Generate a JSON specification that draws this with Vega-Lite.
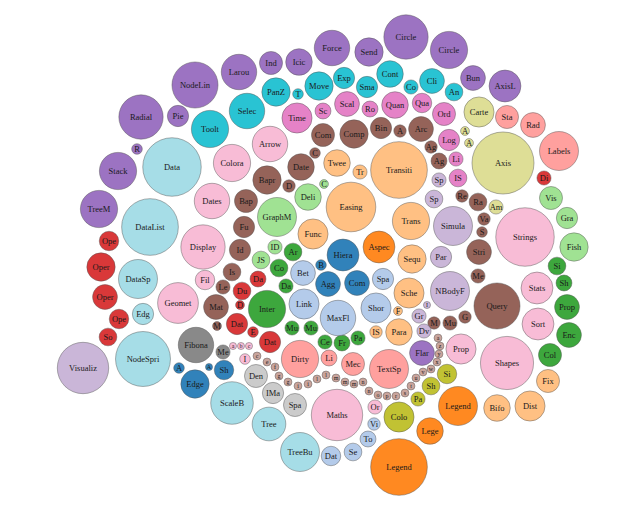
{
  "$schema": "https://vega.github.io/schema/vega-lite/v6.json",
  "width": 640,
  "height": 513,
  "padding": 0,
  "autosize": {"type": "fit", "contains": "padding"},
  "background": "white",
  "config": {"view": {"stroke": null}},
  "data": {"values": [
    {"n":"NodeLin","x":195,"y":85,"r":26,"c":"p"},
    {"n":"Radial","x":141,"y":117,"r":25,"c":"p"},
    {"n":"Pie","x":178,"y":116,"r":12,"c":"p"},
    {"n":"R","x":137,"y":149,"r":6,"c":"p"},
    {"n":"Stack","x":118,"y":171,"r":21,"c":"p"},
    {"n":"TreeM","x":99,"y":209,"r":21,"c":"p"},
    {"n":"Larou","x":239,"y":72,"r":20,"c":"p"},
    {"n":"Ind","x":271,"y":63,"r":13,"c":"p"},
    {"n":"Icic","x":299,"y":62,"r":15,"c":"p"},
    {"n":"Force","x":332,"y":48,"r":20,"c":"p"},
    {"n":"Send","x":369,"y":52,"r":16,"c":"p"},
    {"n":"Circle","x":406,"y":37,"r":25,"c":"p"},
    {"n":"Circle","x":449,"y":50,"r":21,"c":"p"},
    {"n":"Bun","x":473,"y":78,"r":14,"c":"p"},
    {"n":"AxisL","x":505,"y":86,"r":18,"c":"p"},
    {"n":"Flar","x":422,"y":353,"r":14,"c":"p"},

    {"n":"Toolt","x":210,"y":129,"r":21,"c":"c"},
    {"n":"Selec","x":247,"y":111,"r":20,"c":"c"},
    {"n":"PanZ","x":276,"y":92,"r":16,"c":"c"},
    {"n":"T","x":298,"y":94,"r":6,"c":"c"},
    {"n":"Move","x":319,"y":86,"r":16,"c":"c"},
    {"n":"Exp","x":344,"y":78,"r":12,"c":"c"},
    {"n":"Sma","x":367,"y":87,"r":12,"c":"c"},
    {"n":"Cont","x":390,"y":74,"r":15,"c":"c"},
    {"n":"Co","x":411,"y":87,"r":8,"c":"c"},
    {"n":"Cli","x":432,"y":81,"r":14,"c":"c"},
    {"n":"An","x":454,"y":92,"r":10,"c":"c"},

    {"n":"Data","x":172,"y":167,"r":33,"c":"lc"},
    {"n":"DataList","x":150,"y":227,"r":32,"c":"lc"},
    {"n":"DataSp","x":138,"y":279,"r":22,"c":"lc"},
    {"n":"Edg","x":143,"y":314,"r":12,"c":"lc"},
    {"n":"NodeSpri","x":143,"y":359,"r":31,"c":"lc"},
    {"n":"ScaleB","x":232,"y":403,"r":24,"c":"lc"},
    {"n":"Tree","x":269,"y":424,"r":19,"c":"lc"},
    {"n":"TreeBu","x":300,"y":452,"r":22,"c":"lc"},

    {"n":"Time","x":297,"y":118,"r":17,"c":"pk"},
    {"n":"Sc","x":323,"y":111,"r":9,"c":"pk"},
    {"n":"Scal","x":347,"y":104,"r":14,"c":"pk"},
    {"n":"Ro","x":370,"y":109,"r":9,"c":"pk"},
    {"n":"Quan","x":395,"y":105,"r":15,"c":"pk"},
    {"n":"Qua","x":422,"y":103,"r":11,"c":"pk"},
    {"n":"Ord","x":444,"y":114,"r":13,"c":"pk"},
    {"n":"Log","x":449,"y":140,"r":12,"c":"pk"},
    {"n":"Li","x":456,"y":159,"r":8,"c":"pk"},
    {"n":"IS","x":458,"y":178,"r":10,"c":"pk"},

    {"n":"Com","x":323,"y":135,"r":13,"c":"br"},
    {"n":"C","x":315,"y":153,"r":6,"c":"br"},
    {"n":"Date","x":301,"y":167,"r":15,"c":"br"},
    {"n":"Comp","x":354,"y":134,"r":16,"c":"br"},
    {"n":"Bin","x":381,"y":128,"r":12,"c":"br"},
    {"n":"A","x":400,"y":131,"r":7,"c":"br"},
    {"n":"Arc","x":421,"y":129,"r":14,"c":"br"},
    {"n":"Ag","x":431,"y":147,"r":7,"c":"br"},
    {"n":"Ag","x":439,"y":161,"r":9,"c":"br"},
    {"n":"Bapr","x":267,"y":180,"r":16,"c":"br"},
    {"n":"D","x":289,"y":186,"r":7,"c":"br"},
    {"n":"Bap","x":246,"y":201,"r":13,"c":"br"},
    {"n":"Fu","x":244,"y":227,"r":12,"c":"br"},
    {"n":"Id","x":240,"y":250,"r":12,"c":"br"},
    {"n":"Is","x":232,"y":272,"r":10,"c":"br"},
    {"n":"Le","x":223,"y":287,"r":8,"c":"br"},
    {"n":"Mat","x":216,"y":307,"r":14,"c":"br"},
    {"n":"M","x":217,"y":326,"r":5,"c":"br"},
    {"n":"Re","x":462,"y":196,"r":7,"c":"br"},
    {"n":"Ra","x":478,"y":202,"r":10,"c":"br"},
    {"n":"Va","x":484,"y":219,"r":7,"c":"br"},
    {"n":"S","x":482,"y":232,"r":6,"c":"br"},
    {"n":"Stri","x":479,"y":252,"r":14,"c":"br"},
    {"n":"Me","x":478,"y":276,"r":8,"c":"br"},
    {"n":"Query","x":497,"y":306,"r":26,"c":"br"},
    {"n":"M","x":434,"y":323,"r":7,"c":"br"},
    {"n":"Mu","x":450,"y":323,"r":8,"c":"br"},
    {"n":"G","x":465,"y":317,"r":7,"c":"br"},

    {"n":"Twee","x":337,"y":163,"r":15,"c":"lo"},
    {"n":"Tr","x":360,"y":172,"r":8,"c":"lo"},
    {"n":"Transiti","x":399,"y":170,"r":32,"c":"lo"},
    {"n":"Easing","x":351,"y":207,"r":28,"c":"lo"},
    {"n":"Func","x":313,"y":234,"r":17,"c":"lo"},
    {"n":"Trans","x":411,"y":221,"r":21,"c":"lo"},
    {"n":"Sequ","x":412,"y":259,"r":16,"c":"lo"},
    {"n":"Sche","x":409,"y":293,"r":17,"c":"lo"},
    {"n":"F","x":398,"y":311,"r":5,"c":"lo"},
    {"n":"IS","x":376,"y":332,"r":7,"c":"lo"},
    {"n":"Para","x":399,"y":332,"r":15,"c":"lo"},
    {"n":"Fix","x":548,"y":381,"r":13,"c":"lo"},
    {"n":"Dist","x":530,"y":406,"r":17,"c":"lo"},
    {"n":"Bifo","x":497,"y":408,"r":15,"c":"lo"},

    {"n":"Aspec","x":379,"y":247,"r":18,"c":"o"},
    {"n":"Legend","x":458,"y":406,"r":22,"c":"o"},
    {"n":"Lege","x":430,"y":431,"r":15,"c":"o"},
    {"n":"Legend","x":399,"y":467,"r":32,"c":"o"},

    {"n":"Axis","x":503,"y":163,"r":35,"c":"lol"},
    {"n":"Carte","x":479,"y":112,"r":17,"c":"lol"},
    {"n":"A","x":465,"y":131,"r":5,"c":"lol"},
    {"n":"A","x":469,"y":143,"r":5,"c":"lol"},
    {"n":"Am","x":496,"y":207,"r":8,"c":"lol"},

    {"n":"Sta","x":507,"y":117,"r":13,"c":"s"},
    {"n":"Rad","x":533,"y":125,"r":14,"c":"s"},
    {"n":"Labels","x":559,"y":151,"r":22,"c":"s"},
    {"n":"Dirty","x":300,"y":359,"r":21,"c":"s"},
    {"n":"Li","x":329,"y":358,"r":9,"c":"s"},
    {"n":"Mec","x":353,"y":364,"r":13,"c":"s"},
    {"n":"TextSp","x":389,"y":369,"r":22,"c":"s"},

    {"n":"Arrow","x":270,"y":144,"r":20,"c":"lp"},
    {"n":"Colora","x":232,"y":163,"r":21,"c":"lp"},
    {"n":"Dates","x":212,"y":201,"r":20,"c":"lp"},
    {"n":"Display","x":203,"y":247,"r":25,"c":"lp"},
    {"n":"Geomet","x":178,"y":303,"r":23,"c":"lp"},
    {"n":"Fil","x":205,"y":280,"r":11,"c":"lp"},
    {"n":"Strings","x":525,"y":237,"r":33,"c":"lp"},
    {"n":"Stats","x":537,"y":288,"r":18,"c":"lp"},
    {"n":"Sort","x":538,"y":324,"r":18,"c":"lp"},
    {"n":"Shapes","x":507,"y":363,"r":30,"c":"lp"},
    {"n":"Prop","x":461,"y":349,"r":17,"c":"lp"},
    {"n":"Maths","x":337,"y":415,"r":29,"c":"lp"},
    {"n":"Or","x":375,"y":407,"r":8,"c":"lp"},
    {"n":"I","x":245,"y":359,"r":6,"c":"lp"},
    {"n":"a","x":233,"y":346,"r":4,"c":"lp"},
    {"n":"b","x":241,"y":346,"r":4,"c":"lp"},
    {"n":"c","x":249,"y":346,"r":4,"c":"lp"},

    {"n":"Deli","x":308,"y":197,"r":15,"c":"lg"},
    {"n":"C","x":324,"y":184,"r":5,"c":"lg"},
    {"n":"GraphM","x":277,"y":217,"r":22,"c":"lg"},
    {"n":"ID","x":275,"y":247,"r":8,"c":"lg"},
    {"n":"JS","x":261,"y":260,"r":10,"c":"lg"},
    {"n":"Vis","x":551,"y":198,"r":13,"c":"lg"},
    {"n":"Gra","x":567,"y":218,"r":12,"c":"lg"},
    {"n":"Fish","x":574,"y":247,"r":16,"c":"lg"},

    {"n":"Ar","x":293,"y":252,"r":10,"c":"g"},
    {"n":"Co","x":279,"y":268,"r":10,"c":"g"},
    {"n":"Da","x":286,"y":286,"r":8,"c":"g"},
    {"n":"Inter","x":267,"y":309,"r":21,"c":"g"},
    {"n":"Mu","x":292,"y":328,"r":8,"c":"g"},
    {"n":"Mu","x":311,"y":328,"r":8,"c":"g"},
    {"n":"Ce","x":325,"y":342,"r":8,"c":"g"},
    {"n":"Fr","x":342,"y":343,"r":9,"c":"g"},
    {"n":"Pa","x":358,"y":338,"r":8,"c":"g"},
    {"n":"Si","x":557,"y":266,"r":10,"c":"g"},
    {"n":"Sh","x":564,"y":283,"r":9,"c":"g"},
    {"n":"Prop","x":567,"y":307,"r":14,"c":"g"},
    {"n":"Enc","x":569,"y":335,"r":14,"c":"g"},
    {"n":"Col","x":550,"y":355,"r":13,"c":"g"},

    {"n":"Ope","x":109,"y":241,"r":11,"c":"r"},
    {"n":"Oper","x":101,"y":267,"r":16,"c":"r"},
    {"n":"Oper","x":105,"y":297,"r":14,"c":"r"},
    {"n":"Ope","x":119,"y":319,"r":11,"c":"r"},
    {"n":"So","x":108,"y":337,"r":10,"c":"r"},
    {"n":"Da","x":258,"y":279,"r":9,"c":"r"},
    {"n":"Du","x":242,"y":291,"r":10,"c":"r"},
    {"n":"D","x":240,"y":305,"r":5,"c":"r"},
    {"n":"Dat","x":237,"y":324,"r":12,"c":"r"},
    {"n":"E","x":253,"y":332,"r":6,"c":"r"},
    {"n":"Dat","x":270,"y":342,"r":12,"c":"r"},
    {"n":"Di","x":544,"y":178,"r":8,"c":"r"},

    {"n":"Hiera","x":343,"y":255,"r":18,"c":"db"},
    {"n":"Agg","x":328,"y":284,"r":14,"c":"db"},
    {"n":"Com","x":357,"y":283,"r":14,"c":"db"},
    {"n":"B","x":321,"y":265,"r":6,"c":"db"},
    {"n":"Edge","x":195,"y":384,"r":16,"c":"db"},
    {"n":"Sh","x":224,"y":370,"r":11,"c":"db"},
    {"n":"A","x":209,"y":367,"r":4,"c":"db"},
    {"n":"A","x":179,"y":368,"r":6,"c":"db"},

    {"n":"Bet","x":303,"y":273,"r":14,"c":"lb"},
    {"n":"Link","x":304,"y":304,"r":17,"c":"lb"},
    {"n":"MaxFl","x":338,"y":318,"r":20,"c":"lb"},
    {"n":"Shor","x":376,"y":308,"r":17,"c":"lb"},
    {"n":"Spa","x":383,"y":279,"r":12,"c":"lb"},
    {"n":"Dat","x":331,"y":456,"r":11,"c":"lb"},
    {"n":"Se","x":353,"y":452,"r":10,"c":"lb"},
    {"n":"To","x":368,"y":439,"r":9,"c":"lb"},
    {"n":"Vi","x":374,"y":424,"r":7,"c":"lb"},

    {"n":"Visualiz","x":83,"y":368,"r":29,"c":"lpu"},
    {"n":"Simula","x":453,"y":226,"r":22,"c":"lpu"},
    {"n":"NBodyF","x":450,"y":291,"r":22,"c":"lpu"},
    {"n":"Par","x":441,"y":257,"r":12,"c":"lpu"},
    {"n":"Sp","x":439,"y":180,"r":8,"c":"lpu"},
    {"n":"Sp","x":434,"y":199,"r":10,"c":"lpu"},
    {"n":"I","x":427,"y":305,"r":4,"c":"lpu"},
    {"n":"Gr","x":419,"y":316,"r":8,"c":"lpu"},
    {"n":"Dv","x":424,"y":331,"r":8,"c":"lpu"},

    {"n":"Fibona","x":196,"y":345,"r":20,"c":"gy"},
    {"n":"Me","x":223,"y":352,"r":8,"c":"gy"},

    {"n":"Den","x":256,"y":376,"r":13,"c":"lgy"},
    {"n":"IMa","x":273,"y":393,"r":12,"c":"lgy"},
    {"n":"Spa","x":295,"y":405,"r":13,"c":"lgy"},

    {"n":"Colo","x":399,"y":417,"r":17,"c":"ol"},
    {"n":"Si","x":447,"y":374,"r":11,"c":"ol"},
    {"n":"Sh","x":431,"y":386,"r":10,"c":"ol"},
    {"n":"Pa","x":418,"y":399,"r":8,"c":"ol"},

    {"n":"c","x":257,"y":356,"r":4.5,"c":"lbr"},
    {"n":"e","x":267,"y":362,"r":4.5,"c":"lbr"},
    {"n":"f","x":275,"y":367,"r":4.5,"c":"lbr"},
    {"n":"g","x":279,"y":376,"r":4.5,"c":"lbr"},
    {"n":"g","x":288,"y":382,"r":4.5,"c":"lbr"},
    {"n":"i","x":298,"y":386,"r":4.5,"c":"lbr"},
    {"n":"i","x":308,"y":384,"r":4.5,"c":"lbr"},
    {"n":"l","x":317,"y":379,"r":4.5,"c":"lbr"},
    {"n":"l","x":326,"y":375,"r":4.5,"c":"lbr"},
    {"n":"m","x":336,"y":378,"r":4.5,"c":"lbr"},
    {"n":"m","x":345,"y":382,"r":4.5,"c":"lbr"},
    {"n":"m","x":354,"y":384,"r":4.5,"c":"lbr"},
    {"n":"n","x":363,"y":382,"r":4.5,"c":"lbr"},
    {"n":"n","x":369,"y":391,"r":4.5,"c":"lbr"},
    {"n":"o","x":378,"y":395,"r":4.5,"c":"lbr"},
    {"n":"p","x":387,"y":396,"r":4.5,"c":"lbr"},
    {"n":"r","x":396,"y":396,"r":4.5,"c":"lbr"},
    {"n":"s","x":405,"y":393,"r":4.5,"c":"lbr"},
    {"n":"t","x":411,"y":386,"r":4.5,"c":"lbr"},
    {"n":"u","x":416,"y":378,"r":4.5,"c":"lbr"},
    {"n":"v","x":423,"y":372,"r":4.5,"c":"lbr"},
    {"n":"w","x":431,"y":369,"r":4.5,"c":"lbr"},
    {"n":"x","x":437,"y":362,"r":4.5,"c":"lbr"},
    {"n":"y","x":439,"y":354,"r":4.5,"c":"lbr"},
    {"n":"z","x":440,"y":346,"r":4.5,"c":"lbr"},
    {"n":"a","x":438,"y":338,"r":4.5,"c":"lbr"}
  ]},
  "encoding": {
    "x": {"field": "x", "type": "quantitative", "scale": {"domain": [0, 640]}, "axis": null},
    "y": {"field": "y", "type": "quantitative", "scale": {"domain": [0, 513], "reverse": true}, "axis": null}
  },
  "layer": [
    {
      "mark": {"type": "circle", "fillOpacity": 0.92, "stroke": "#555555", "strokeOpacity": 0.45, "strokeWidth": 1},
      "encoding": {
        "size": {"field": "r", "type": "quantitative", "scale": {"type": "pow", "exponent": 2, "domain": [0, 50], "range": [0, 7853.98]}, "legend": null},
        "color": {"field": "c", "type": "nominal", "legend": null,
          "scale": {
            "domain": ["p","c","lc","pk","br","lo","o","lol","s","lp","lg","g","r","db","lb","lpu","gy","lgy","ol","lbr"],
            "range": ["#9467bd","#17becf","#9edae5","#e377c2","#8c564b","#ffbb78","#ff7f0e","#dbdb8d","#ff9896","#f7b6d2","#98df8a","#2ca02c","#d62728","#1f77b4","#aec7e8","#c5b0d5","#7f7f7f","#c7c7c7","#bcbd22","#c49c94"]
          }
        }
      }
    },
    {
      "mark": {"type": "text", "font": "Liberation Serif", "color": "#1a1a1a", "baseline": "middle", "align": "center"},
      "encoding": {
        "text": {"field": "n", "type": "nominal"},
        "size": {"field": "r", "type": "quantitative", "legend": null, "scale": {"type": "threshold", "domain": [5], "range": [6, 8.5]}}
      }
    }
  ]
}
